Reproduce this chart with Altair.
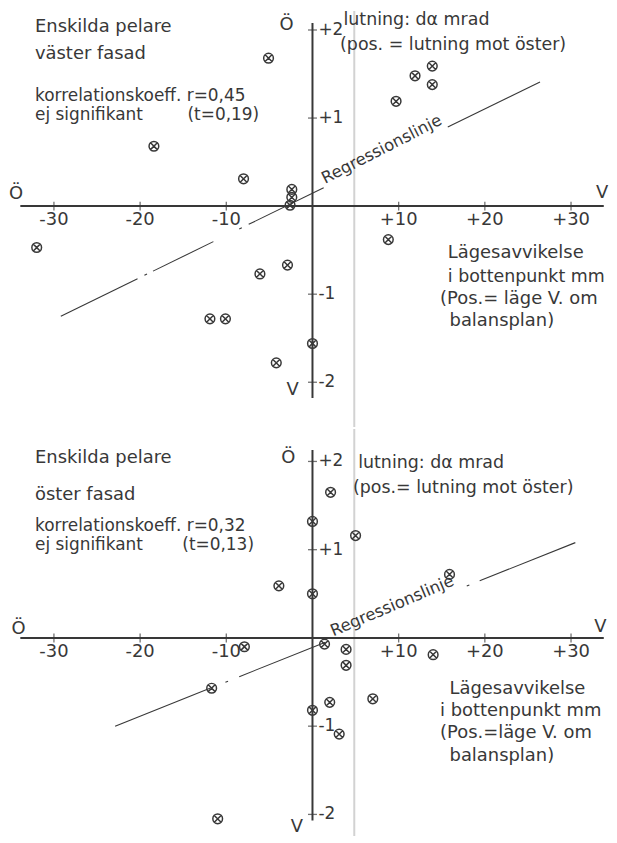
import altair as alt
import pandas as pd

FONT = "DejaVu Sans"
INK = "#383838"

# ---------------- data ----------------
x_ticks = [-30, -20, -10, 10, 20, 30]
x_tick_labels = ["-30", "-20", "-10", "+10", "+20", "+30"]
y_ticks = [2, 1, -1, -2]
y_tick_labels = ["+2", "+1", "-1", "-2"]

# west facade (upper panel): position deviation mm, inclination mrad
west_x = [-32.0, -18.4, -8.0, -5.1, -2.4, -2.4, -2.6, -2.9, -6.1, -11.9, -10.1, 0.0, -4.2, 8.8, 9.7, 11.9, 13.9, 13.9]
west_y = [-0.47, 0.68, 0.31, 1.68, 0.19, 0.10, 0.01, -0.67, -0.77, -1.28, -1.28, -1.56, -1.78, -0.38, 1.19, 1.48, 1.59, 1.38]

# east facade (lower panel)
east_x = [-11.0, -11.7, -7.9, -3.9, 0.0, 2.1, 5.0, 0.0, 1.4, 3.9, 3.9, 2.0, 0.0, 3.1, 7.0, 14.0, 15.9]
east_y = [-2.05, -0.57, -0.10, 0.59, 1.32, 1.65, 1.16, 0.50, -0.07, -0.13, -0.31, -0.73, -0.82, -1.09, -0.69, -0.19, 0.72]

# regression lines (end points) and the drawn pieces (dash-dot, gap for label)
west_reg_x = [-29.2, 26.4]
west_reg_y = [-1.25, 1.41]
west_pieces = [(-29.2, -20.3), (-19.5, -19.2), (-18.5, -11.5), (-8.5, -8.2), (-7.4, 1.3), (15.7, 26.4)]
west_label_x = 8.5

east_reg_x = [-22.9, 30.5]
east_reg_y = [-1.00, 1.08]
east_pieces = [(-22.9, -11.9), (-10.1, -9.8), (-8.5, 1.5), (17.9, 18.2), (19.4, 30.5)]
east_label_x = 9.65

fold_x = [4.85]

west_texts = [
    ("Enskilda pelare", -32.2, 2.03, 18),
    ("väster fasad", -32.2, 1.73, 18),
    ("korrelationskoeff. r=0,45", -32.2, 1.245, 17),
    ("ej signifikant", -32.2, 1.03, 17),
    ("(t=0,19)", -14.5, 1.03, 17),
    ("lutning: dα mrad", 3.6, 2.11, 17.5),
    ("(pos. = lutning mot öster)", 3.2, 1.83, 17.5),
    ("Lägesavvikelse", 15.7, -0.53, 18),
    ("i bottenpunkt mm", 15.7, -0.80, 17.5),
    ("(Pos.= läge V. om", 14.8, -1.06, 18),
    ("balansplan)", 15.9, -1.30, 18),
]
west_letters = [("Ö", -3.0, 2.06), ("Ö", -34.4, 0.14), ("V", 33.6, 0.15), ("V", -2.3, -2.09)]

east_texts = [
    ("Enskilda pelare", -32.2, 2.04, 18),
    ("öster fasad", -32.2, 1.62, 18),
    ("korrelationskoeff. r=0,32", -32.2, 1.27, 17),
    ("ej signifikant", -32.2, 1.05, 17),
    ("(t=0,13)", -15.1, 1.05, 17),
    ("lutning: dα mrad", 5.3, 1.98, 17.5),
    ("(pos.= lutning mot öster)", 4.7, 1.70, 17.5),
    ("Lägesavvikelse", 15.9, -0.575, 18),
    ("i bottenpunkt mm", 14.8, -0.834, 18),
    ("(Pos.=läge V. om", 14.8, -1.082, 18),
    ("balansplan)", 15.9, -1.342, 18),
]
east_letters = [("Ö", -2.8, 2.04), ("Ö", -34.1, 0.10), ("V", 33.4, 0.12), ("V", -1.8, -2.14)]

west_axes = {"h": (-33.9, 33.8), "v": (-2.18, 2.08)}
east_axes = {"h": (-33.9, 33.8), "v": (-2.07, 2.13)}

# ---------------- layout ----------------
W = 601
X_DOMAIN = [-35.33, 34.06]
H1, Y1 = 418, [-2.508, 2.215]
H2, Y2 = 409, [-2.244, 2.368]

MARKER = "M-1,0A1,1,0,1,0,1,0A1,1,0,1,0,-1,0M-0.7,-0.7L0.7,0.7M-0.7,0.7L0.7,-0.7"


def on_line(x, xs, ys):
    return ys[0] + (x - xs[0]) * (ys[1] - ys[0]) / (xs[1] - xs[0])


def panel(px, py, reg_x, reg_y, pieces, label_x, label_angle, texts, letters, axes, y_domain, height):
    xs = alt.Scale(domain=X_DOMAIN, nice=False, zero=False)
    ys = alt.Scale(domain=y_domain, nice=False, zero=False)
    X = lambda f: alt.X(f, type="quantitative", scale=xs, axis=None)
    Y = lambda f: alt.Y(f, type="quantitative", scale=ys, axis=None)

    fold = alt.Chart(pd.DataFrame({"x": fold_x})).mark_rule(color="#d2d2d2", strokeWidth=2).encode(
        x=X("x"), y=alt.value(0), y2=alt.value(height))

    ax_df = pd.DataFrame({
        "x": [axes["h"][0], 0.0], "x2": [axes["h"][1], 0.0],
        "y": [0.0, axes["v"][0]], "y2": [0.0, axes["v"][1]],
    })
    ax = alt.Chart(ax_df).mark_rule(color=INK, strokeWidth=2).encode(
        x=X("x"), x2=alt.X2("x2"), y=Y("y"), y2=alt.Y2("y2"))

    xt_df = pd.DataFrame({"t": x_ticks, "lab": x_tick_labels, "z": [0.0] * len(x_ticks)})
    xt = alt.Chart(xt_df).mark_tick(orient="vertical", size=9, thickness=1.3, color=INK).encode(
        x=X("t"), y=Y("z"))
    xl = alt.Chart(xt_df).mark_text(dy=14, align="center", baseline="middle", font=FONT,
                                    fontSize=18, color=INK).encode(x=X("t"), y=Y("z"), text="lab:N")

    yt_df = pd.DataFrame({"t": y_ticks, "lab": y_tick_labels, "z": [0.0] * len(y_ticks)})
    yt = alt.Chart(yt_df).mark_tick(orient="horizontal", size=9, thickness=1.3, color=INK).encode(
        x=X("z"), y=Y("t"))
    yl = alt.Chart(yt_df).mark_text(dx=6, align="left", baseline="middle", font=FONT,
                                    fontSize=17, color=INK).encode(x=X("z"), y=Y("t"), text="lab:N")

    rows = []
    for i, (a, b) in enumerate(pieces):
        rows.append({"seg": i, "o": 0, "x": a, "y": on_line(a, reg_x, reg_y)})
        rows.append({"seg": i, "o": 1, "x": b, "y": on_line(b, reg_x, reg_y)})
    reg = alt.Chart(pd.DataFrame(rows)).mark_line(color=INK, strokeWidth=1.1).encode(
        x=X("x"), y=Y("y"), detail="seg:N", order="o:Q")

    lab_df = pd.DataFrame({"x": [label_x], "y": [on_line(label_x, reg_x, reg_y)], "t": ["Regressionslinje"]})
    lab = alt.Chart(lab_df).mark_text(angle=label_angle, align="center", baseline="bottom", dy=-1,
                                      font=FONT, fontSize=16.5, color=INK).encode(
        x=X("x"), y=Y("y"), text="t:N")

    pts = alt.Chart(pd.DataFrame({"x": px, "y": py})).mark_point(
        shape=MARKER, filled=False, size=95, strokeWidth=1.5, color=INK, opacity=1).encode(
        x=X("x"), y=Y("y"))

    t_df = pd.DataFrame(texts, columns=["t", "x", "y", "s"])
    txt = alt.Chart(t_df).mark_text(align="left", baseline="middle", font=FONT, color=INK).encode(
        x=X("x"), y=Y("y"), text="t:N", size=alt.Size("s:Q", scale=None))

    l_df = pd.DataFrame(letters, columns=["t", "x", "y"])
    let = alt.Chart(l_df).mark_text(align="center", baseline="middle", font=FONT, fontSize=18,
                                    color=INK).encode(x=X("x"), y=Y("y"), text="t:N")

    return alt.layer(fold, ax, xt, yt, xl, yl, reg, lab, pts, txt, let).properties(width=W, height=height)


top = panel(west_x, west_y, west_reg_x, west_reg_y, west_pieces, west_label_x, 333,
            west_texts, west_letters, west_axes, Y1, H1)
bottom = panel(east_x, east_y, east_reg_x, east_reg_y, east_pieces, east_label_x, 337,
               east_texts, east_letters, east_axes, Y2, H2)

chart = alt.vconcat(top, bottom, spacing=0).properties(padding=0).configure_view(strokeWidth=0)
chart.save("out.html", embed_options={"renderer": "svg", "actions": False})
